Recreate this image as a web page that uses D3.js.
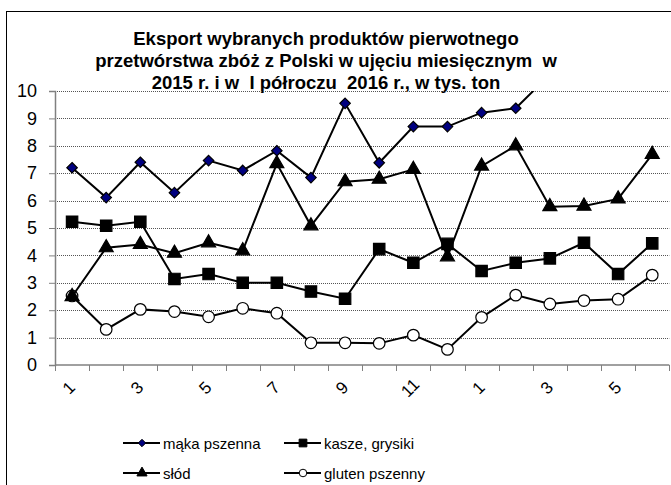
<!DOCTYPE html>
<html>
<head>
<meta charset="utf-8">
<script src="https://cdn.jsdelivr.net/npm/d3@7"></script>
<style>
  body { margin: 0; background: #fff; }
  text { font-family: "Liberation Sans", Arial, sans-serif; }
</style>
</head>
<body>
<div id="wrapper"></div>
<script>
// months: 2015 (1-12) and first half of 2016 (1-6)
const months = [1,2,3,4,5,6,7,8,9,10,11,12,1,2,3,4,5,6];
const tickLabels = ["1","","3","","5","","7","","9","","11","","1","","3","","5",""];
const yTicks = [0,1,2,3,4,5,6,7,8,9,10];

// values (tys. ton); last 4 of maka go past the top of the chart
const makaPszenna = [7.20,6.11,7.40,6.29,7.46,7.10,7.82,6.84,9.55,7.38,8.70,8.70,9.21,9.37,10.6,11.3,11.0,11.8];
const kaszeGrysiki = [5.23,5.08,5.23,3.14,3.32,3.00,3.00,2.68,2.42,4.23,3.73,4.42,3.43,3.73,3.89,4.46,3.32,4.44];
const slod = [2.50,4.28,4.40,4.08,4.46,4.17,7.35,5.08,6.69,6.78,7.14,3.95,7.26,8.00,5.78,5.80,6.06,7.69];
const glutenPszenny = [2.52,1.30,2.03,1.95,1.76,2.07,1.89,0.81,0.81,0.79,1.09,0.57,1.74,2.55,2.23,2.35,2.40,3.28];

const seriesNames = ["mąka pszenna","kasze, grysiki","słód","gluten pszenny"];

function drawChart() {
    const dimensions = {
        width: 671,
        height: 485,
        margin: { top: 91, right: 2, bottom: 120, left: 55 },
    }
    dimensions.boundedWidth = 614.3
    dimensions.boundedHeight = 274

    const svg = d3.select("#wrapper")
        .append("svg")
        .attr("width", dimensions.width)
        .attr("height", dimensions.height);

    // outer frame
    svg.append("rect")
        .attr("x", 6.5).attr("y", 11.5)
        .attr("width", 700).attr("height", 500)
        .attr("fill", "none").attr("stroke", "black").attr("stroke-width", 1);

    // title
    const titleLines = [
        "Eksport wybranych produktów pierwotnego",
        "przetwórstwa zbóż z Polski w ujęciu miesięcznym  w",
        "2015 r. i w  I półroczu  2016 r., w tys. ton"
    ];
    svg.append("g").selectAll("text")
        .data(titleLines)
        .enter().append("text")
        .attr("x", 326)
        .attr("y", (d, i) => 45 + i * 22)
        .attr("text-anchor", "middle")
        .attr("font-size", "18.5px")
        .attr("font-weight", "bold")
        .style("white-space", "pre")
        .attr("xml:space", "preserve")
        .text(d => d);

    const bounds = svg.append("g")
        .attr("transform", `translate(${dimensions.margin.left},${dimensions.margin.top})`);

    const xScaler = d3.scaleBand()
        .domain(d3.range(months.length))
        .range([0, dimensions.boundedWidth]);

    const yScaler = d3.scaleLinear()
        .domain([0, 10])
        .range([dimensions.boundedHeight, 0]);

    // gridlines
    bounds.append("g").selectAll("line")
        .data(yTicks.filter(d => d > 0))
        .enter().append("line")
        .attr("x1", 0).attr("x2", dimensions.boundedWidth)
        .attr("y1", d => Math.round(yScaler(d)) + 0.5)
        .attr("y2", d => Math.round(yScaler(d)) + 0.5)
        .attr("stroke", "#555")
        .attr("stroke-dasharray", "1 1");

    // y axis
    const yAxisGen = d3.axisLeft(yScaler)
        .tickValues(yTicks)
        .tickSize(6)
        .tickPadding(12);
    const yAxis = bounds.append("g").call(yAxisGen);
    yAxis.select(".domain").attr("stroke", "#808080").attr("stroke-width", 1.5);
    yAxis.selectAll(".tick line").attr("stroke", "#808080");
    yAxis.selectAll(".tick text")
        .attr("font-size", "18px")
        .attr("font-family", "Liberation Sans, Arial, sans-serif")
        .attr("fill", "black");

    // x axis: ticks on category boundaries
    const xAxisLine = bounds.append("g")
        .attr("transform", `translate(0,${dimensions.boundedHeight})`);
    xAxisLine.append("line")
        .attr("x1", 0).attr("x2", dimensions.boundedWidth)
        .attr("stroke", "#808080").attr("stroke-width", 1.5);
    xAxisLine.selectAll(".xt")
        .data(d3.range(months.length + 1))
        .enter().append("line")
        .attr("x1", d => Math.round(d * xScaler.step()) + 0.5)
        .attr("x2", d => Math.round(d * xScaler.step()) + 0.5)
        .attr("y1", 0).attr("y2", 6)
        .attr("stroke", "#808080");
    xAxisLine.selectAll(".xl")
        .data(d3.range(months.length).filter(i => tickLabels[i] !== ""))
        .enter().append("text")
        .attr("transform", i => `translate(${xScaler(i) + xScaler.bandwidth() / 2 - 3},23) rotate(-45)`)
        .attr("text-anchor", "middle")
        .attr("dominant-baseline", "central")
        .attr("font-size", "17px")
        .text(i => tickLabels[i]);

    // clip to plot area
    svg.append("defs").append("clipPath").attr("id", "plot")
        .append("rect")
        .attr("x", 0).attr("y", 0)
        .attr("width", dimensions.boundedWidth)
        .attr("height", dimensions.boundedHeight);

    const plot = bounds.append("g").attr("clip-path", "url(#plot)");
    const cx = i => xScaler(i) + xScaler.bandwidth() / 2;

    const lineGen = d3.line()
        .x((d, i) => cx(i))
        .y(d => yScaler(d));

    const symbols = {
        diamond: d3.symbol().type(d3.symbolDiamond2).size(70),
        square: d3.symbol().type(d3.symbolSquare).size(130),
        triangle: d3.symbol().type(d3.symbolTriangle).size(85),
        circle: d3.symbol().type(d3.symbolCircle).size(105),
    };

    const seriesList = [
        { name: seriesNames[3], values: glutenPszenny, sym: "circle", fill: "white" },
        { name: seriesNames[1], values: kaszeGrysiki, sym: "square", fill: "black" },
        { name: seriesNames[0], values: makaPszenna, sym: "diamond", fill: "#000080" },
        { name: seriesNames[2], values: slod, sym: "triangle", fill: "black" },
    ];

    seriesList.forEach(s => {
        plot.append("path")
            .datum(s.values)
            .attr("d", lineGen)
            .attr("fill", "none")
            .attr("stroke", "black")
            .attr("stroke-width", 2);
        plot.append("g").selectAll("path")
            .data(s.values)
            .enter().append("path")
            .attr("transform", (d, i) => `translate(${cx(i)},${yScaler(d)})`)
            .attr("d", symbols[s.sym])
            .attr("fill", s.fill)
            .attr("stroke", "black")
            .attr("stroke-width", 1.2);
    });

    // legend
    const legendItems = [
        { name: seriesNames[0], sym: "diamond", fill: "#000080", x: 123, y: 443 },
        { name: seriesNames[1], sym: "square", fill: "black", x: 284, y: 443 },
        { name: seriesNames[2], sym: "triangle", fill: "black", x: 123, y: 473 },
        { name: seriesNames[3], sym: "circle", fill: "white", x: 284, y: 473 },
    ];
    const smallSymbols = {
        diamond: d3.symbol().type(d3.symbolDiamond2).size(35),
        square: d3.symbol().type(d3.symbolSquare).size(60),
        triangle: d3.symbol().type(d3.symbolTriangle).size(45),
        circle: d3.symbol().type(d3.symbolCircle).size(45),
    };
    const legend = svg.append("g").selectAll("g")
        .data(legendItems)
        .enter().append("g")
        .attr("transform", d => `translate(${d.x},${d.y})`);
    legend.append("line")
        .attr("x1", 0).attr("x2", 37)
        .attr("stroke", "black").attr("stroke-width", 2);
    legend.append("path")
        .attr("transform", "translate(19,0)")
        .attr("d", d => smallSymbols[d.sym]())
        .attr("fill", d => d.fill)
        .attr("stroke", "black")
        .attr("stroke-width", 1);
    legend.append("text")
        .attr("x", 40)
        .attr("y", 0)
        .attr("dominant-baseline", "central")
        .attr("font-size", "15px")
        .text(d => d.name);
}

drawChart();
</script>
</body>
</html>
